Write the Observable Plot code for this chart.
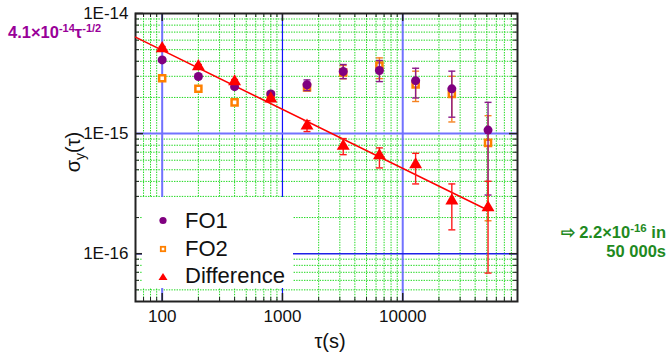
<!DOCTYPE html>
<html><head><meta charset="utf-8">
<script src="https://cdn.jsdelivr.net/npm/d3@7"></script>
<script src="https://cdn.jsdelivr.net/npm/@observablehq/plot@0.6"></script>
<style>
html,body{margin:0;padding:0;background:#fff;}
#wrap{position:relative;width:668px;height:356px;font-family:"Liberation Sans",Arial,sans-serif;overflow:hidden;}
#chart{position:absolute;left:0;top:0;}
#over{position:absolute;left:0;top:0;pointer-events:none;}
</style></head><body>
<div id="wrap"><div id="chart"></div>
<svg id="over" width="668" height="356" font-family="Liberation Sans, Arial, sans-serif">
  <text x="8" y="38" fill="#990099" font-weight="bold" font-size="16.5">4.1×10<tspan dy="-6" font-size="11">-14</tspan><tspan dy="6" font-size="16.5">τ</tspan><tspan dy="-6" font-size="11">-1/2</tspan></text>
  <text x="666" y="238" fill="#1f8a1f" font-weight="bold" font-size="16.5" text-anchor="end">⇨ 2.2×10<tspan dy="-6" font-size="11.5">-16</tspan><tspan dy="6" font-size="16.5"> in</tspan></text>
  <text x="666" y="257" fill="#1f8a1f" font-weight="bold" font-size="16.5" text-anchor="end">50 000s</text>
  <text transform="translate(80,152) rotate(-90)" text-anchor="middle" font-size="20" fill="#111">σ<tspan dy="5" font-size="14">y</tspan><tspan dy="-5" font-size="20">(τ)</tspan></text>
  <text x="330" y="348" text-anchor="middle" font-size="20" fill="#111">τ(s)</text>
  <g id="legend">
    <rect x="142" y="197" width="151" height="91" fill="#fff"/>
    <circle cx="163" cy="220.5" r="3.6" fill="#800080"/>
    <rect x="160.8" y="246.8" width="4.4" height="4.4" fill="#fff" stroke="#ff8000" stroke-width="1.8"/>
    <polygon points="158.5,280 167.5,280 163,273" fill="#ff0000"/>
    <text x="185" y="227.5" font-size="22" fill="#111">FO1</text>
    <text x="185" y="255.5" font-size="22" fill="#111">FO2</text>
    <text x="185" y="283" font-size="22" fill="#111">Difference</text>
  </g>
</svg>
</div>
<script>
// ---- data ----
const tau = [100, 200, 400, 800, 1600, 3200, 6400, 12800, 25600, 51200];
const fo1   = [4.11e-15, 2.99e-15, 2.46e-15, 2.14e-15, 2.55e-15, 3.29e-15, 3.35e-15, 2.76e-15, 2.36e-15, 1.07e-15];
const fo1Hi = [4.26e-15, 3.10e-15, 2.56e-15, 2.24e-15, 2.80e-15, 3.76e-15, 4.06e-15, 3.50e-15, 3.31e-15, 1.82e-15];
const fo1Lo = [3.98e-15, 2.87e-15, 2.37e-15, 2.05e-15, 2.28e-15, 2.87e-15, 2.71e-15, 1.98e-15, 1.37e-15, 3.08e-16];
const fo2   = [2.89e-15, 2.36e-15, 1.82e-15, 2.07e-15, 2.42e-15, 3.22e-15, 3.69e-15, 2.56e-15, 2.14e-15, 8.37e-16];
const fo2Hi = [3.00e-15, 2.45e-15, 1.90e-15, 2.15e-15, 2.56e-15, 3.69e-15, 4.27e-15, 3.31e-15, 3.00e-15, 1.41e-15];
const fo2Lo = [2.78e-15, 2.27e-15, 1.76e-15, 2.00e-15, 2.28e-15, 2.86e-15, 2.87e-15, 1.85e-15, 1.25e-15, 1.88e-16];
const diff   = [5.11e-15, 3.62e-15, 2.71e-15, 1.95e-15, 1.16e-15, 7.87e-16, 6.56e-16, 5.52e-16, 2.76e-16, 2.42e-16];
const diffHi = [5.31e-15, 3.76e-15, 2.82e-15, 2.03e-15, 1.28e-15, 9.09e-16, 7.60e-16, 6.85e-16, 3.81e-16, 4.01e-16];
const diffLo = [4.92e-15, 3.48e-15, 2.61e-15, 1.87e-15, 1.04e-15, 6.68e-16, 5.18e-16, 3.81e-16, 1.58e-16, 6.9e-17];
const fitTau = [60, 51200];
const fitSigma = [6.35e-15, 2.3e-16];
const xTicks = [100, 1000, 10000];
const xTickLabels = ["100", "1000", "10000"];
const yTicks = [1e-16, 1e-15, 1e-14];
const yTickLabels = ["1E-16", "1E-15", "1E-14"];
const xMinor = [60,70,80,90,200,300,400,500,600,700,800,900,2000,3000,4000,5000,6000,7000,8000,9000,20000,30000,40000,50000,60000,70000,80000,90000];
const yMinor = [4e-17,5e-17,6e-17,7e-17,8e-17,9e-17,2e-16,3e-16,4e-16,5e-16,6e-16,7e-16,8e-16,9e-16,2e-15,3e-15,4e-15,5e-15,6e-15,7e-15,8e-15,9e-15];

const idx = d3.range(tau.length);
const fitIdx = d3.range(fitTau.length);
const W = 668, H = 356, mL = 135, mR = 151, mT = 13, mB = 55;
const fw = W - mL - mR, fh = H - mT - mB;

const cap = {draw(ctx) { ctx.moveTo(-3.5, 0); ctx.lineTo(3.5, 0); }};

function errs(lo, hi, color) {
  return [
    Plot.ruleX(idx, {x: i => tau[i], y1: i => lo[i], y2: i => hi[i], stroke: color, strokeWidth: 1.4}),
    Plot.dot(idx, {x: i => tau[i], y: i => hi[i], symbol: cap, r: 3, fill: "none", stroke: color, strokeWidth: 1.4}),
    Plot.dot(idx, {x: i => tau[i], y: i => lo[i], symbol: cap, r: 3, fill: "none", stroke: color, strokeWidth: 1.4})
  ];
}

const chart = Plot.plot({
  width: W, height: H,
  marginLeft: mL, marginRight: mR, marginTop: mT, marginBottom: mB,
  x: {type: "log", domain: [60, 90000]},
  y: {type: "log", domain: [4e-17, 1e-14]},
  style: {fontFamily: "Liberation Sans, Arial, sans-serif", fontSize: "17px", color: "#111", background: "transparent"},
  marks: [
    Plot.ruleX(xMinor, {stroke: "#1ed81e", strokeWidth: 1, strokeDasharray: "1.4,1.2"}),
    Plot.ruleY(yMinor, {stroke: "#1ed81e", strokeWidth: 1, strokeDasharray: "1.4,1.2"}),
    Plot.ruleX([xTicks[0], xTicks[2]], {stroke: "#7272ff", strokeWidth: 2}),
    Plot.ruleX([xTicks[1]], {stroke: "#1010ff", strokeWidth: 1.2}),
    Plot.ruleY([yTicks[1]], {stroke: "#7272ff", strokeWidth: 2}),
    Plot.ruleY([yTicks[0]], {stroke: "#2020e8", strokeWidth: 1.5}),
    Plot.frame({stroke: "#222", strokeWidth: 2}),
    // inward ticks on all four sides
    Plot.ruleX(xMinor, {insetTop: fh - 4, stroke: "#222"}),
    Plot.ruleX(xMinor, {insetBottom: fh - 4, stroke: "#222"}),
    Plot.ruleX(xTicks, {insetTop: fh - 8, stroke: "#222", strokeWidth: 1.5}),
    Plot.ruleX(xTicks, {insetBottom: fh - 8, stroke: "#222", strokeWidth: 1.5}),
    Plot.ruleY(yMinor, {insetRight: fw - 4, stroke: "#222"}),
    Plot.ruleY(yMinor, {insetLeft: fw - 4, stroke: "#222"}),
    Plot.ruleY(yTicks, {insetRight: fw - 8, stroke: "#222", strokeWidth: 1.5}),
    Plot.ruleY(yTicks, {insetLeft: fw - 8, stroke: "#222", strokeWidth: 1.5}),
    Plot.axisX(xTicks, {tickSize: 0, tickPadding: 8, tickFormat: d => xTickLabels[xTicks.indexOf(d)], label: null, fontSize: 17}),
    Plot.axisY(yTicks, {tickSize: 0, tickPadding: 7, tickFormat: d => yTickLabels[yTicks.indexOf(d)], label: null, fontSize: 17}),
    Plot.line(fitIdx, {x: i => fitTau[i], y: i => fitSigma[i], stroke: "#ff0000", strokeWidth: 1.5}),
    ...errs(fo2Lo, fo2Hi, "#f58220"),
    Plot.dot(idx, {x: i => tau[i], y: i => fo2[i], symbol: "square", r: 3.4, fill: "#fff", stroke: "#ff8000", strokeWidth: 2.5}),
    ...errs(fo1Lo, fo1Hi, "#8a1a8a"),
    Plot.dot(idx, {x: i => tau[i], y: i => fo1[i], symbol: "circle", r: 4.5, fill: "#800080"}),
    ...errs(diffLo, diffHi, "#ff1a1a"),
    Plot.dot(idx, {x: i => tau[i], y: i => diff[i], symbol: "triangle", r: 4.8, fill: "#ff0000"})
  ]
});
document.getElementById("chart").appendChild(chart);
</script>
</body></html>
